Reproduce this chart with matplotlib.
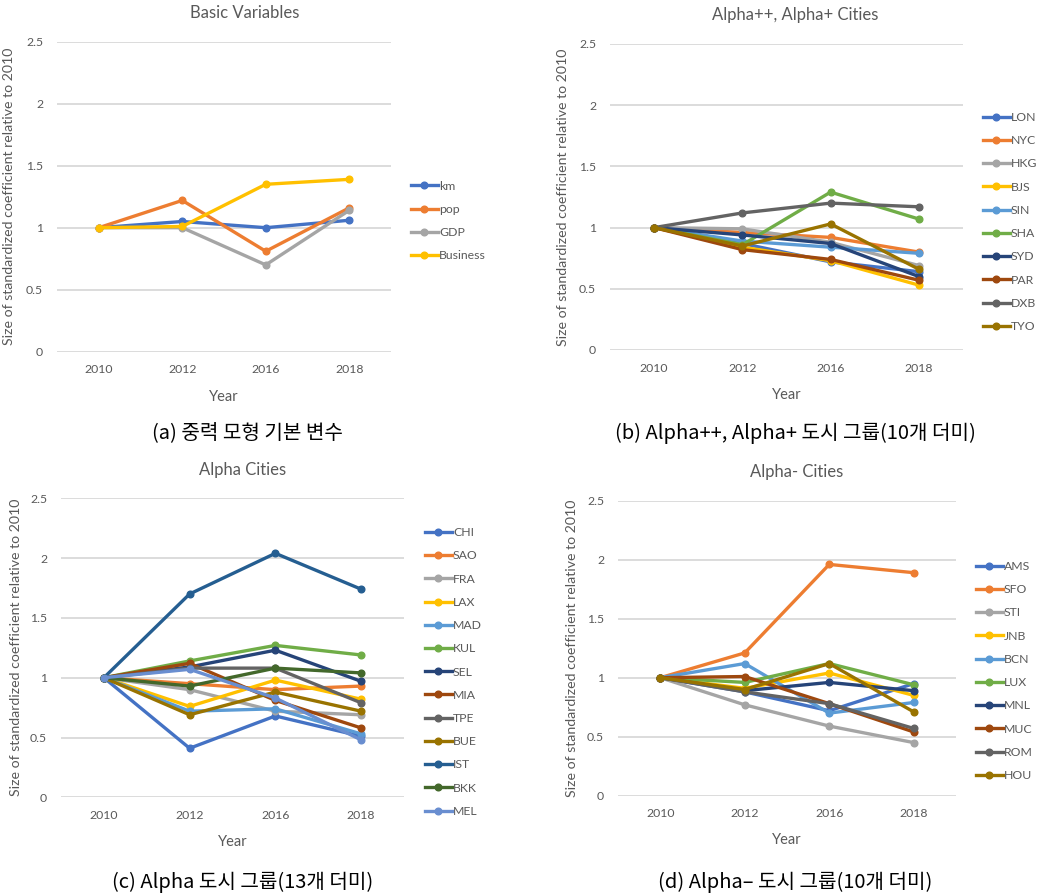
import numpy as np
import matplotlib
matplotlib.use("Agg")
import matplotlib.pyplot as plt

plt.rcParams['font.family'] = ['Lato', 'DejaVu Sans']

years = ["2010", "2012", "2016", "2018"]

# (a) basic variables
basic_names = ["km", "pop", "GDP", "Business"]
basic_km = [1.0, 1.05, 1.0, 1.06]
basic_pop = [1.0, 1.22, 0.81, 1.16]
basic_gdp = [1.0, 1.0, 0.70, 1.14]
basic_business = [1.0, 1.01, 1.35, 1.39]

# (b) Alpha++, Alpha+ cities
ap_names = ["LON", "NYC", "HKG", "BJS", "SIN", "SHA", "SYD", "PAR", "DXB", "TYO"]
ap_lon = [1.0, 0.87, 0.72, 0.64]
ap_nyc = [1.0, 0.96, 0.92, 0.80]
ap_hkg = [1.0, 0.99, 0.88, 0.69]
ap_bjs = [1.0, 0.84, 0.73, 0.53]
ap_sin = [1.0, 0.89, 0.84, 0.79]
ap_sha = [1.0, 0.86, 1.29, 1.07]
ap_syd = [1.0, 0.94, 0.87, 0.60]
ap_par = [1.0, 0.82, 0.74, 0.57]
ap_dxb = [1.0, 1.12, 1.20, 1.17]
ap_tyo = [1.0, 0.85, 1.03, 0.66]

# (c) Alpha cities
a_names = ["CHI", "SAO", "FRA", "LAX", "MAD", "KUL", "SEL", "MIA", "TPE", "BUE", "IST", "BKK", "MEL"]
a_chi = [1.0, 0.41, 0.68, 0.51]
a_sao = [1.0, 0.95, 0.90, 0.93]
a_fra = [1.0, 0.90, 0.72, 0.69]
a_lax = [1.0, 0.76, 0.98, 0.82]
a_mad = [1.0, 0.72, 0.74, 0.53]
a_kul = [1.0, 1.14, 1.27, 1.19]
a_sel = [1.0, 1.09, 1.23, 0.97]
a_mia = [1.0, 1.12, 0.81, 0.58]
a_tpe = [1.0, 1.08, 1.08, 0.79]
a_bue = [1.0, 0.69, 0.88, 0.72]
a_ist = [1.0, 1.70, 2.04, 1.74]
a_bkk = [1.0, 0.93, 1.08, 1.04]
a_mel = [1.0, 1.07, 0.83, 0.48]

# (d) Alpha- cities
am_names = ["AMS", "SFO", "STI", "JNB", "BCN", "LUX", "MNL", "MUC", "ROM", "HOU"]
am_ams = [1.0, 0.88, 0.72, 0.95]
am_sfo = [1.0, 1.21, 1.96, 1.89]
am_sti = [1.0, 0.77, 0.59, 0.45]
am_jnb = [1.0, 0.91, 1.04, 0.85]
am_bcn = [1.0, 1.12, 0.70, 0.79]
am_lux = [1.0, 0.96, 1.12, 0.94]
am_mnl = [1.0, 0.89, 0.96, 0.89]
am_muc = [1.0, 1.01, 0.78, 0.54]
am_rom = [1.0, 0.88, 0.78, 0.57]
am_hou = [1.0, 0.90, 1.12, 0.71]

# excel office palette
colors = ["#4472C4", "#ED7D31", "#A5A5A5", "#FFC000", "#5B9BD5", "#70AD47",
          "#264478", "#9E480E", "#636363", "#997300", "#255E91", "#43682B", "#698ED0"]
txt = "#595959"

W, H = 1038, 896
fig = plt.figure(figsize=(W / 100, H / 100), dpi=100)


def px_axes(l, r, t, b):
    return fig.add_axes([l / W, 1 - b / H, (r - l) / W, (b - t) / H])


def panel(ax, title, title_x, names, series, ylab_x, leg_x, leg_y, caption, cap_x, cap_y):
    for i, (n, s) in enumerate(zip(names, series)):
        ax.plot(years, s, color=colors[i], lw=2.4, marker='o', ms=4.8,
                label=n, clip_on=False, solid_joinstyle='round')
    ax.set_xlim(-0.5, 3.5)
    ax.set_ylim(0, 2.5)
    ax.set_yticks([0, 0.5, 1, 1.5, 2, 2.5])
    ax.set_yticklabels(["0", "0.5", "1", "1.5", "2", "2.5"])
    ax.grid(axis='y', color='#D9D9D9', lw=1.3)
    ax.set_axisbelow(True)
    for sp in ax.spines.values():
        sp.set_visible(False)
    ax.tick_params(length=0, colors=txt, labelsize=8.8)
    ax.tick_params(axis='y', pad=10)
    ax.tick_params(axis='x', pad=9)
    ax.set_xlabel("Year", color=txt, fontsize=10.5)
    ax.xaxis.set_label_coords(0.5, -0.125)
    ax.set_ylabel("Size of standardized coefficient relative to 2010", color=txt, fontsize=10.2)
    ax.yaxis.set_label_coords(ylab_x, 0.5)
    ax.set_title(title, color=txt, fontsize=12, x=title_x, y=1.0, pad=17)
    leg = ax.legend(loc='center left', bbox_to_anchor=(leg_x / W, 1 - leg_y / H),
                    bbox_transform=fig.transFigure, frameon=False, fontsize=8.8,
                    handlelength=2.2, handletextpad=0.1, borderpad=0, borderaxespad=0,
                    labelspacing=1.0)
    for t in leg.get_texts():
        t.set_color(txt)
    fig.text(cap_x / W, 1 - cap_y / H, caption, ha='center', va='center',
             fontsize=14.5, color='black', family=['Noto Sans CJK KR', 'DejaVu Sans'])


ax1 = px_axes(57, 391, 41.7, 351.7)
panel(ax1, "Basic Variables", 0.563, basic_names,
      [basic_km, basic_pop, basic_gdp, basic_business], -0.126,
      411, 221, "(a) 중력 모형 기본 변수", 247, 433)

ax2 = px_axes(610, 963, 44, 350)
panel(ax2, "Alpha++, Alpha+ Cities", 0.524, ap_names,
      [ap_lon, ap_nyc, ap_hkg, ap_bjs, ap_sin, ap_sha, ap_syd, ap_par, ap_dxb, ap_tyo],
      -0.116, 983, 222, "(b) Alpha++, Alpha+ 도시 그룹(10개 더미)", 795, 433)

ax3 = px_axes(61, 404, 498.3, 797.3)
panel(ax3, "Alpha Cities", 0.53, a_names,
      [a_chi, a_sao, a_fra, a_lax, a_mad, a_kul, a_sel, a_mia, a_tpe, a_bue, a_ist, a_bkk, a_mel],
      -0.115, 425, 672, "(c) Alpha 도시 그룹(13개 더미)", 243, 882)

ax4 = px_axes(618, 956, 500.7, 795.7)
panel(ax4, "Alpha- Cities", 0.529, am_names,
      [am_ams, am_sfo, am_sti, am_jnb, am_bcn, am_lux, am_mnl, am_muc, am_rom, am_hou],
      -0.117, 976, 671, "(d) Alpha– 도시 그룹(10개 더미)", 795, 882)

fig.savefig("out.png", dpi=100, facecolor='white')
